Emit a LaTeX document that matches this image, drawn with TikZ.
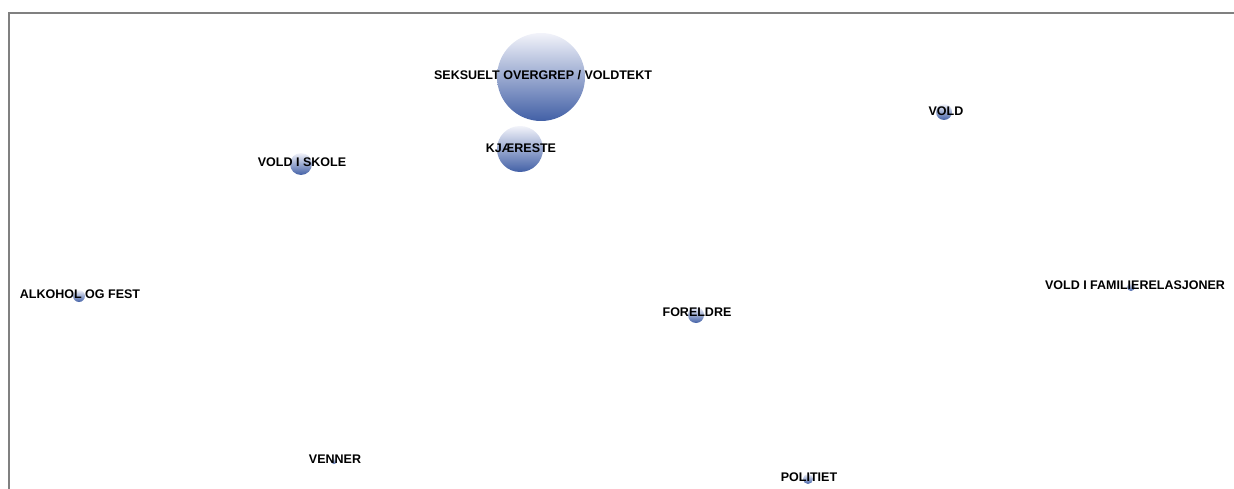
\documentclass[tikz,border=0pt]{standalone}
\usepackage{fontspec}
\setmainfont{Liberation Sans}
\begin{document}
\begin{tikzpicture}[x=1pt,y=-1pt,
  bubble/.style={circle,inner sep=0pt,minimum size=#1,top color=bubbletop,bottom color=bubblebot,draw=none},
  lbl/.style={font=\fontsize{12.5}{13}\selectfont\bfseries,text=black,inner sep=0pt},
  frame/.style={draw=framegray,line width=2pt}]
\definecolor{bubbletop}{RGB}{242,243,250}
\definecolor{bubblebot}{RGB}{66,96,166}
\definecolor{framegray}{RGB}{128,128,128}
\useasboundingbox (0,0) rectangle (1234,489);
\coordinate (fbl) at (9,489);
\coordinate (ftl) at (9,13);
\coordinate (ftr) at (1234,13);
\draw[frame] (fbl) -- (ftl) -- (ftr);
% bubbles
\node[bubble=88pt] (b1) at (541,77) {};
\node[bubble=46pt] (b2) at (520,149) {};
\node[bubble=22pt] (b3) at (301,164) {};
\node[bubble=12pt] (b4) at (79,296) {};
\node[bubble=16pt] (b5) at (944,112) {};
\node[bubble=8pt]  (b6) at (1131,287) {};
\node[bubble=16pt] (b7) at (696,315) {};
\node[bubble=6pt]  (b8) at (334,461) {};
\node[bubble=10pt] (b9) at (808,479) {};
% labels
\node[lbl] (l1) at (543,75.5) {SEKSUELT OVERGREP / VOLDTEKT};
\node[lbl] (l2) at (521,148.5) {KJÆRESTE};
\node[lbl] (l3) at (302,162.5) {VOLD I SKOLE};
\node[lbl] (l4) at (80,294.5) {ALKOHOL OG FEST};
\node[lbl] (l5) at (946,111.5) {VOLD};
\node[lbl] (l6) at (1135,285.5) {VOLD I FAMILIERELASJONER};
\node[lbl] (l7) at (697,312.5) {FORELDRE};
\node[lbl] (l8) at (335,459.5) {VENNER};
\node[lbl] (l9) at (809,477.5) {POLITIET};
\end{tikzpicture}
\end{document}
